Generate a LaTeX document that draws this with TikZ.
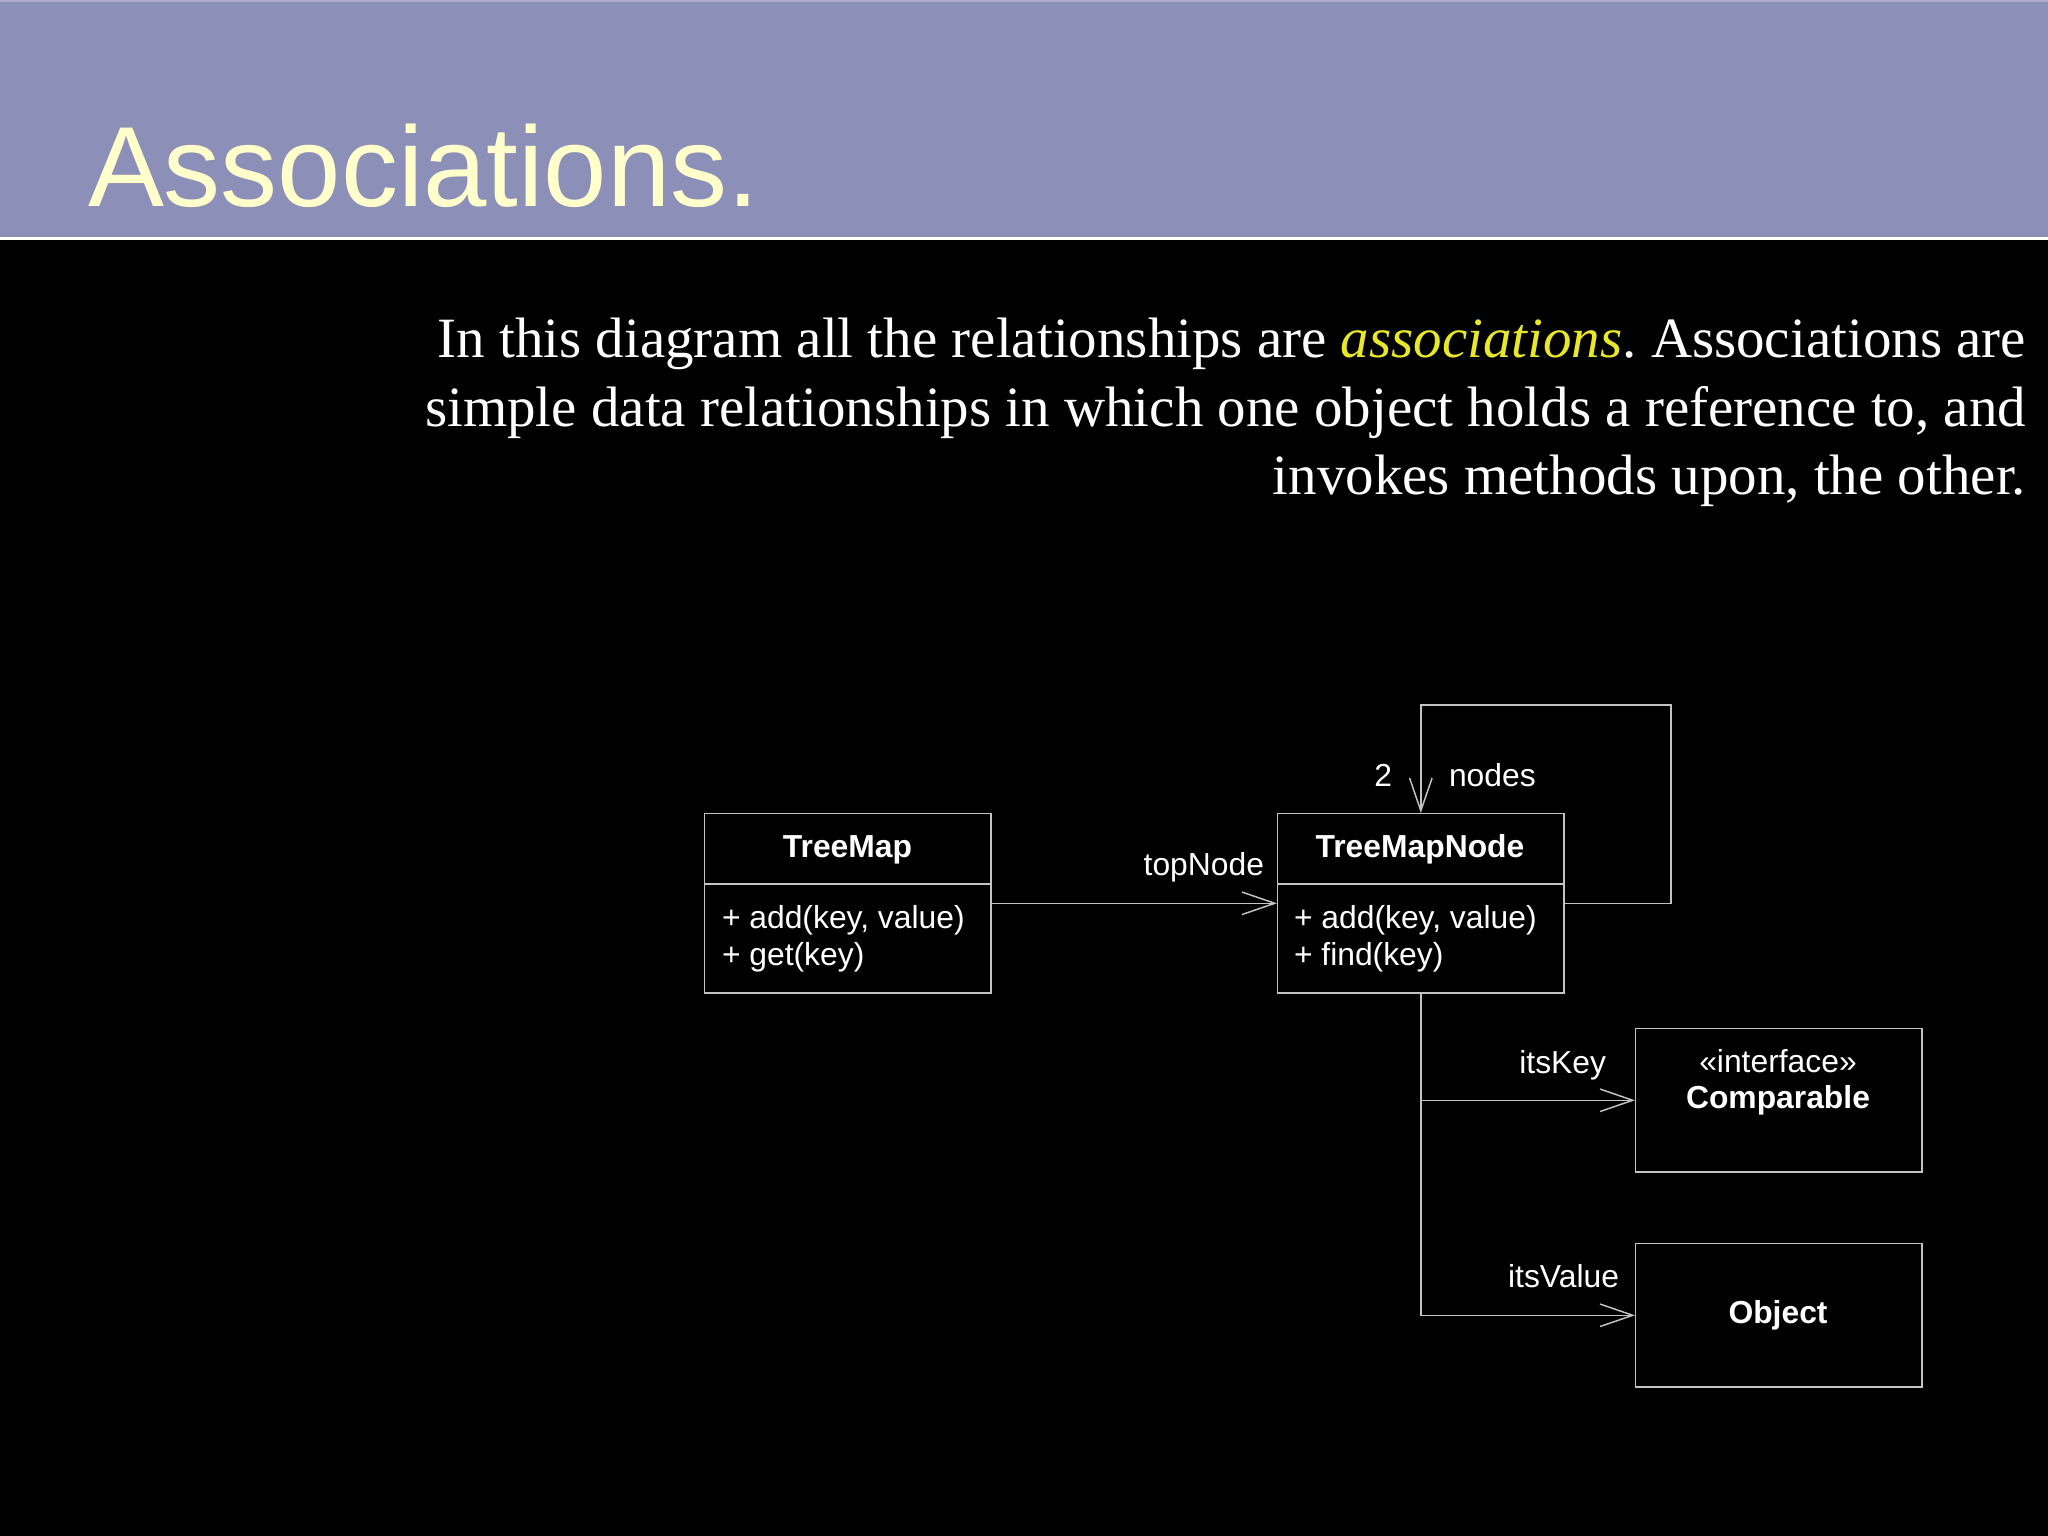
\documentclass[tikz,border=0pt]{standalone}
\usepackage{fontspec}
\setmainfont{Liberation Serif}
\newfontfamily\arialf{Liberation Sans}
\usetikzlibrary{arrows.meta}
\frenchspacing
\definecolor{hdrfill}{RGB}{140,143,184}
\definecolor{hdrline}{RGB}{175,175,205}
\definecolor{titlecol}{RGB}{255,255,204}
\definecolor{emph}{RGB}{232,232,40}
\definecolor{linecol}{RGB}{195,195,195}
\tikzset{
  txt/.style={inner sep=0pt, outer sep=0pt, text=white},
  dtxt/.style={txt, font=\arialf\fontsize{9.05}{10.7}\selectfont},
  btxt/.style={dtxt, font=\arialf\bfseries\fontsize{9.05}{10.7}\selectfont},
  ptxt/.style={txt, anchor=base east, font=\fontsize{16.2}{19.5}\selectfont},
  classbox/.style={draw=linecol, line width=0.42pt, inner sep=0pt, anchor=north west, minimum width=2.86cm},
  assoc/.style={draw=linecol, line width=0.42pt, -{Straight Barb[length=9.3pt,width=6.4pt,line width=0.42pt]}},
  plain/.style={draw=linecol, line width=0.42pt}
}
\begin{document}
\begin{tikzpicture}[x=0.01cm,y=-0.01cm]
\useasboundingbox (0,0) rectangle (2048,1536);
\fill[black] (0,0) rectangle (2048,1536);
% header band
\fill[hdrfill] (0,0) rectangle (2048,237);
\draw[hdrline, line width=0.4pt] (0,1) -- (2048,1);
\fill[white] (0,237) rectangle (2048,240);
\node[txt, anchor=base west, text=titlecol, font=\arialf\fontsize{32.4}{38}\selectfont] (title) at (88,206) {Associations.};
% paragraph
\node[ptxt] (p1) at (2026,357) {In this diagram all the relationships are \textcolor{emph}{\itshape associations}. Associations are};
\node[ptxt] (p2) at (2026,426) {simple data relationships in which one object holds a reference to, and};
\node[ptxt] (p3) at (2026,494) {invokes methods upon, the other.};
% classes
\node[classbox, minimum height=1.79cm] (tm) at (704,813) {};
\node[classbox, minimum height=1.79cm] (tmn) at (1277,813) {};
\node[classbox, minimum height=1.43cm] (cmp) at (1635,1028) {};
\node[classbox, minimum height=1.43cm] (obj) at (1635,1243) {};
\draw[plain] (tm.west |- 0,884) -- (tm.east |- 0,884);
\draw[plain] (tmn.west |- 0,884) -- (tmn.east |- 0,884);
% class texts
\node[btxt, anchor=base] (tmname) at (847.5,857) {TreeMap};
\node[dtxt, anchor=base west] (tmm1) at (722,928) {+ add(key, value)};
\node[dtxt, anchor=base west] (tmm2) at (722,965) {+ get(key)};
\node[btxt, anchor=base] (tmnname) at (1420,857) {TreeMapNode};
\node[dtxt, anchor=base west] (tmnm1) at (1294,928) {+ add(key, value)};
\node[dtxt, anchor=base west] (tmnm2) at (1294,965) {+ find(key)};
\node[dtxt, anchor=base] (cmpst) at (1778,1072) {«interface»};
\node[btxt, anchor=base] (cmpname) at (1778,1108) {Comparable};
\node[btxt, anchor=base] (objname) at (1778,1323) {Object};
% connectors
\draw[assoc] (tm.east) -- (tmn.east -| tmn.west);
\coordinate (loop) at (1671,705);
\draw[assoc] (tmn.east) -| (loop) -| (tmn.north);
\draw[assoc] (tmn.south) |- (cmp.west);
\draw[assoc] (tmn.south) |- (obj.west);
% labels
\node[dtxt, anchor=base east] (lbltop) at (1264,875) {topNode};
\node[dtxt, anchor=base east] (lbl2) at (1392,786) {2};
\node[dtxt, anchor=base west] (lblnodes) at (1449,786) {nodes};
\node[dtxt, anchor=base east] (lblkey) at (1606,1073) {itsKey};
\node[dtxt, anchor=base east] (lblval) at (1619,1287) {itsValue};
\end{tikzpicture}
\end{document}
